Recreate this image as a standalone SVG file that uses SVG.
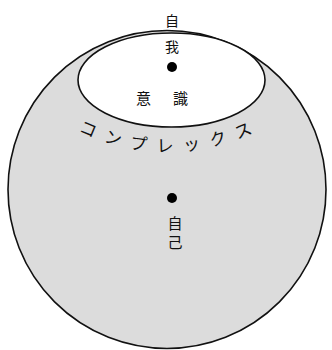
<svg xmlns="http://www.w3.org/2000/svg" width="332" height="350" viewBox="0 0 332 350">
<style>
.t{font-family:"Noto Sans CJK JP","Noto Sans CJK SC",sans-serif;fill:#111;}
.dot{fill:#000;}
</style>
<defs>
<path id="arc" d="M 78 131 Q 168 174 264 128" fill="none"/>
</defs>
<rect width="332" height="350" fill="#fff"/>
<g id="self-circle">
<circle cx="167" cy="189.5" r="159" fill="#dcdcdc" stroke="#111" stroke-width="1.6"/>
</g>
<g id="consciousness">
<ellipse cx="171.5" cy="80" rx="93.5" ry="47" fill="#fff" stroke="#111" stroke-width="1.6"/>
<text class="t" x="173" y="104" font-size="15" text-anchor="middle" letter-spacing="22">意識</text>
</g>
<g id="ego">
<circle class="dot" cx="172" cy="67" r="5"/>
<text class="t" x="172" y="26" font-size="14" text-anchor="middle">自</text>
<text class="t" x="172" y="52" font-size="14" text-anchor="middle">我</text>
</g>
<g id="complex">
<text class="t" font-size="17" letter-spacing="10.5"><textPath href="#arc">コンプレックス</textPath></text>
</g>
<g id="self">
<circle class="dot" cx="172" cy="198" r="5"/>
<text class="t" x="175" y="229" font-size="15" text-anchor="middle">自</text>
<text class="t" x="175" y="248" font-size="15" text-anchor="middle">己</text>
</g>
<g id="connectors"></g>
</svg>
